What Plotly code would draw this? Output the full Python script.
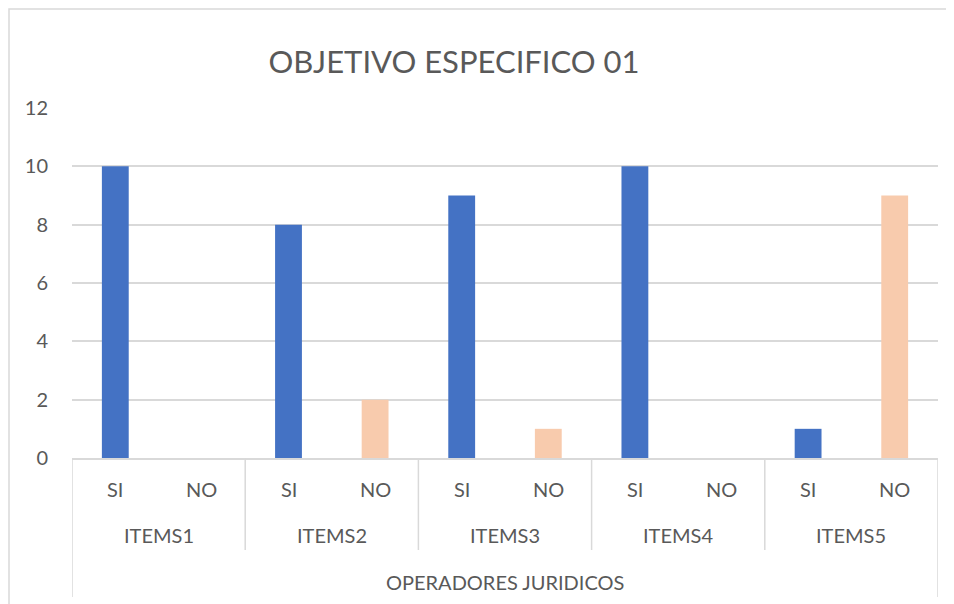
import plotly.graph_objects as go

title = "OBJETIVO ESPECIFICO 01"
items = ["ITEMS1", "ITEMS2", "ITEMS3", "ITEMS4", "ITEMS5"]
responses = ["SI", "NO"]
si_values = [10, 8, 9, 10, 1]
no_values = [0, 2, 1, 0, 9]
group_label = "OPERADORES JURIDICOS"
y_ticks = [0, 2, 4, 6, 8, 10, 12]

colors = {"SI": "#4472C4", "NO": "#F8CBAD"}
text_color = "#595959"
grid_color = "#D9D9D9"
font_family = "Lato, 'Open Sans', sans-serif"

# the page puts the figure 8px in from the window corner
OFF = 8
W, H = 954, 604
L, R, T, B = 72 - OFF, 954 - (938 - OFF), 108 - OFF, 604 - (458 - OFF)
plot_w = W - L - R
plot_h = H - T - B

def py(page_y):
    return (H - B - (page_y - OFF)) / plot_h

def px(page_x):
    return (page_x - OFF - L) / plot_w

n_resp = len(responses)
fig = go.Figure()
for j, (resp, vals) in enumerate(zip(responses, [si_values, no_values])):
    xs = [i * n_resp + j + 0.5 for i in range(len(items))]
    fig.add_trace(go.Bar(x=xs, y=vals, name=resp, width=0.31,
                         marker=dict(color=colors[resp], line=dict(width=0)),
                         showlegend=False))

annotations = []
shapes = []
lab_font = dict(size=20, color=text_color, family=font_family)
for i, it in enumerate(items):
    for j, resp in enumerate(responses):
        annotations.append(dict(x=i * n_resp + j + 0.5, y=py(489), xref="x", yref="paper",
                                text=resp, showarrow=False, yanchor="middle", font=lab_font))
    annotations.append(dict(x=i * n_resp + n_resp / 2, y=py(535), xref="x", yref="paper",
                            text=it, showarrow=False, yanchor="middle", font=lab_font))
n_cat = len(items) * n_resp
annotations.append(dict(x=n_cat / 2, y=py(582), xref="x", yref="paper",
                        text=group_label, showarrow=False, yanchor="middle", font=lab_font))
for k in range(len(items) + 1):
    outer = k == 0 or k == len(items)
    shapes.append(dict(type="line", xref="x", yref="paper",
                       x0=k * n_resp, x1=k * n_resp, y0=0, y1=py(597 if outer else 550),
                       line=dict(color=grid_color, width=1.5)))
shapes.append(dict(type="rect", xref="paper", yref="paper",
                   x0=px(9), x1=px(980), y0=py(650), y1=py(9),
                   line=dict(color=grid_color, width=1.5), fillcolor="rgba(0,0,0,0)",
                   layer="below"))

fig.update_layout(
    width=W, height=H,
    margin=dict(l=L, r=R, t=T, b=B),
    paper_bgcolor="white", plot_bgcolor="white",
    barmode="overlay",
    title=dict(text=title, x=(454 - OFF) / W, xanchor="center", y=1 - (62 - OFF) / H,
               yanchor="middle",
               font=dict(size=31, color=text_color, family=font_family)),
    xaxis=dict(range=[0, n_cat], showticklabels=False, showgrid=False, zeroline=False,
               showline=True, linecolor=grid_color, linewidth=1.5, ticks="", fixedrange=True),
    yaxis=dict(range=[0, 12], tickvals=y_ticks, showgrid=True, gridcolor=grid_color,
               gridwidth=1.5, zeroline=False, showline=False, ticks="",
               ticklabelstandoff=23,
               tickfont=dict(size=20, color=text_color, family=font_family)),
    annotations=annotations,
    shapes=shapes,
)

fig.write_html("out.html")
